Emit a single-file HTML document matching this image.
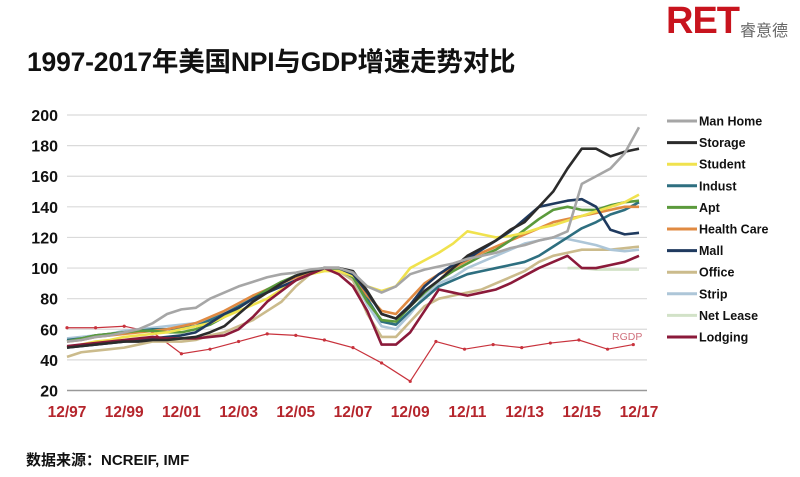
<!DOCTYPE html>
<html><head><meta charset="utf-8"><style>
body{margin:0;background:#fff;width:800px;height:477px;overflow:hidden;position:relative;font-family:"Liberation Sans","Noto Sans CJK SC",sans-serif}
#title{position:absolute;left:27px;top:40px;font-size:26.5px;font-weight:bold;color:#111;white-space:nowrap;letter-spacing:-0.2px}
#logo{position:absolute;left:666px;top:0px;color:#c8141e;font-size:38px;font-weight:bold;letter-spacing:-1px}
#logo-cn{position:absolute;left:740px;top:17px;color:#666;font-size:16px;font-family:"Noto Sans CJK SC",sans-serif}
#source{position:absolute;left:26px;top:449px;font-size:15px;font-weight:bold;color:#111}
svg{position:absolute;left:0;top:0}
</style></head><body>
<div id="title">1997-2017年美国NPI与GDP增速走势对比</div>
<div id="logo">RET</div>
<div id="logo-cn">睿意德</div>
<div id="source">数据来源：NCREIF, IMF</div>
<svg id="chart" width="800" height="477"></svg>
<script>
const yTicks=[20,40,60,80,100,120,140,160,180,200];
const xTickLabels=["12/97","12/99","12/01","12/03","12/05","12/07","12/09","12/11","12/13","12/15","12/17"];
const seriesNames=["Man Home","Storage","Student","Indust","Apt","Health Care","Mall","Office","Strip","Net Lease","Lodging"];
const seriesColors=["#a6a6a6","#2b2b2b","#f0e24e","#2e6f80","#5b9a3c","#e08a42","#1f3a5f","#cbbb8c","#adc6d8","#d2e2c8","#8b1a3a"];
const manHome=[52,53,55,56,58,60,64,70,73,74,80,84,88,91,94,96,97,99,100,100,97,88,84,88,96,99,101,103,106,108,110,113,115,118,120,124,155,160,165,175,192];
const storage=[48,49,50,51,52,52,53,53,54,55,58,62,70,78,84,90,95,98,100,100,98,85,70,67,75,85,92,100,108,113,118,125,130,140,150,165,178,178,173,176,178];
const student=[48,50,52,53,55,56,57,58,60,62,64,68,72,76,80,86,92,96,98,98,95,88,85,88,100,105,110,116,124,122,120,121,123,126,128,131,134,137,140,143,148];
const indust=[53,54,56,57,58,59,60,60,61,62,66,70,75,80,85,90,95,98,100,99,95,80,65,63,72,80,88,92,96,98,100,102,104,108,114,120,126,130,135,138,143];
const apt=[52,54,56,57,58,59,59,58,58,60,63,68,74,80,86,91,95,98,100,99,94,78,66,65,75,84,92,98,103,108,112,118,125,132,138,140,138,138,141,143,144];
const healthCare=[52,53,55,56,57,58,59,60,62,64,68,72,77,82,86,90,94,97,100,100,96,82,72,70,80,90,96,100,105,110,114,118,122,126,130,132,134,136,138,140,140];
const mall=[48,49,50,51,52,53,54,55,56,58,64,70,74,80,84,88,92,96,100,100,96,84,70,67,76,88,96,102,106,112,118,124,132,140,142,144,145,140,125,122,123];
const office=[42,45,46,47,48,50,52,52,52,53,56,58,62,66,72,78,88,96,99,98,92,70,55,55,65,75,80,82,84,86,90,94,98,104,108,110,112,112,112,113,114];
const strip=[54,55,56,57,59,60,61,62,63,64,67,70,75,80,86,90,95,98,100,99,94,76,62,60,70,82,90,94,100,104,108,112,116,118,120,119,117,115,112,111,112];
const netLease=[null,null,null,null,null,null,null,null,null,null,null,null,null,null,null,null,null,null,null,null,null,null,null,null,null,null,null,null,null,null,null,null,null,null,null,100,100,99,99,99,99];
const lodging=[49,50,51,52,53,54,55,54,54,54,55,56,60,68,78,85,92,96,100,96,88,72,50,50,58,72,86,84,82,84,86,90,95,100,104,108,100,100,102,104,108];
const rgdpYears=[1998,1999,2000,2001,2002,2003,2004,2005,2006,2007,2008,2009,2010,2010.9,2011.9,2012.9,2013.9,2014.9,2015.9,2016.9,2017.8];
const rgdp=[61,61,62,58,44,47,52,57,56,53,48,38,26,52,47,50,48,51,53,47,50];
const allSeries=[manHome,storage,student,indust,apt,healthCare,mall,office,strip,netLease,lodging];
const X0=67,PX_PER_YEAR=28.6,Y_BOT=390.5,Y_TOP=115;
function xOf(year){return X0+(year-1998)*PX_PER_YEAR;}
function yOf(v){return Y_BOT-(v-20)/(180)*(Y_BOT-Y_TOP);}
const svg=document.getElementById('chart');const NS="http://www.w3.org/2000/svg";
function mk(t,a){const e=document.createElementNS(NS,t);for(const k in a)e.setAttribute(k,a[k]);svg.appendChild(e);return e;}
yTicks.forEach(t=>{
 const g=mk('line',{x1:67,x2:647,y1:yOf(t),y2:yOf(t),stroke:t===20?'#999':'#dadada','stroke-width':t===20?1.5:1.2});
 
 
 const l=mk('text',{x:58,y:yOf(t)+6,'text-anchor':'end','font-size':16,'font-weight':'bold',fill:'#111','font-family':'Liberation Sans'});
 l.textContent=t;
 
 
});
xTickLabels.forEach((s,i)=>{
 const l=mk('text',{x:xOf(1998+2*i),y:417,'text-anchor':'middle','font-size':15.5,'font-weight':'bold',fill:'#b5252c','font-family':'Liberation Sans'});
 l.textContent=s;
 
 
});
let rp=rgdp.map((v,i)=>xOf(rgdpYears[i])+','+yOf(v)).join(' ');
const rl=mk('polyline',{points:rp,fill:'none',stroke:'#c8323c','stroke-width':1.2});


rgdp.forEach((v,i)=>{const c=mk('circle',{cx:xOf(rgdpYears[i]),cy:yOf(v),r:1.6,fill:'#c8323c'});
 
 });
const rt=mk('text',{x:612,y:340,'font-size':10.5,fill:'#d0707c','font-family':'Liberation Sans'});rt.textContent='RGDP';


const order=[9,7,8,3,5,4,2,6,10,1,0];
order.forEach(si=>{
 const d=allSeries[si];let pts=[];
 d.forEach((v,i)=>{if(v!==null)pts.push(xOf(1998+0.5*i)+','+yOf(v));});
 const p=mk('polyline',{points:pts.join(' '),fill:'none',stroke:seriesColors[si],'stroke-width':2.6,'stroke-linejoin':'round'});
 
 
});
seriesNames.forEach((n,i)=>{
 const y=121+i*21.6;
 const l=mk('line',{x1:667,x2:697,y1:y,y2:y,stroke:seriesColors[i],'stroke-width':3});
 
 
 const t=mk('text',{x:699,y:y+4.5,'font-size':12.5,'font-weight':'bold',fill:'#111','font-family':'Liberation Sans'});
 t.textContent=n;
 
 
});
</script>
</body></html>
